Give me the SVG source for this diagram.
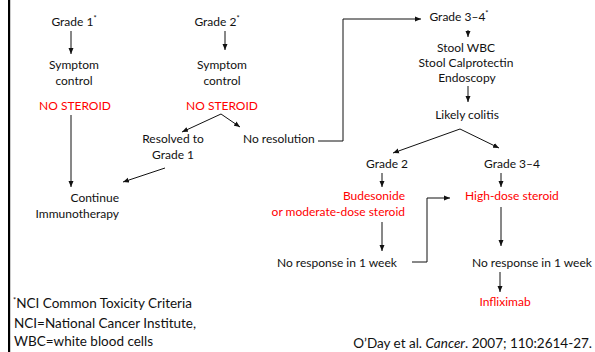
<svg xmlns="http://www.w3.org/2000/svg" width="595" height="352" viewBox="0 0 595 352">
<defs>
<style>
text{font-family:Lato,"Open Sans","Liberation Sans",sans-serif;font-size:12px;fill:#111;}
.c{text-anchor:middle;}
.r{text-anchor:end;}
.red{fill:#ff0000;}
.ft{font-size:13.5px;}
.sup{font-size:7.5px;}
.ln{fill:none;stroke:#111;stroke-width:1;}
.ah{marker-end:url(#ah);}
</style>
<marker id="ah" viewBox="0 0 6 6" refX="6" refY="3" markerWidth="6" markerHeight="6" markerUnits="userSpaceOnUse" orient="auto">
<path d="M0,0.5 L6,3 L0,5.5 Z" fill="#111"/>
</marker>
</defs>
<rect x="8" y="0" width="2.2" height="352" fill="#000"/>
<g id="connectors">
<line class="ln ah" x1="71" y1="31" x2="71" y2="54"/>
<line class="ln ah" x1="225" y1="31" x2="225" y2="50"/>
<line class="ln ah" x1="71" y1="115" x2="71" y2="187"/>
<line class="ln ah" x1="221" y1="114" x2="182" y2="132"/>
<line class="ln ah" x1="221" y1="114" x2="240" y2="127"/>
<line class="ln ah" x1="165" y1="168" x2="123" y2="182"/>
<polyline class="ln ah" points="318,141 343,141 343,19 421,19"/>
<line class="ln ah" x1="468" y1="30" x2="468" y2="37"/>
<line class="ln ah" x1="468" y1="86" x2="468" y2="102"/>
<line class="ln ah" x1="460" y1="129" x2="393" y2="153"/>
<line class="ln ah" x1="460" y1="129" x2="499" y2="148"/>
<line class="ln ah" x1="382" y1="173" x2="382" y2="187"/>
<line class="ln ah" x1="501" y1="173" x2="501" y2="187"/>
<line class="ln ah" x1="382" y1="222" x2="382" y2="251"/>
<polyline class="ln ah" points="412,262 427,262 427,198 450,198"/>
<line class="ln ah" x1="501" y1="207" x2="501" y2="246"/>
<line class="ln ah" x1="500" y1="272" x2="500" y2="292"/>
</g>
<g id="grade1"><text class="c" x="74" y="26">Grade 1<tspan class="sup" dy="-5">*</tspan></text></g>
<g id="symptom1"><text class="c" x="74" y="69">Symptom</text><text class="c" x="74" y="85">control</text></g>
<g id="nosteroid1"><text class="c red" x="75" y="110">NO STEROID</text></g>
<g id="grade2"><text class="c" x="217" y="26">Grade 2<tspan class="sup" dy="-5">*</tspan></text></g>
<g id="symptom2"><text class="c" x="222" y="69">Symptom</text><text class="c" x="222" y="85">control</text></g>
<g id="nosteroid2"><text class="c red" x="222" y="110">NO STEROID</text></g>
<g id="resolved"><text class="c" x="173" y="143">Resolved to</text><text class="c" x="173" y="159">Grade 1</text></g>
<g id="noresolution"><text x="243" y="143">No resolution</text></g>
<g id="continue"><text class="r" x="119" y="202">Continue</text><text class="r" x="119" y="218">Immunotherapy</text></g>
<g id="grade34top"><text class="c" x="459" y="21">Grade 3–4<tspan class="sup" dy="-5">*</tspan></text></g>
<g id="tests"><text class="c" x="466" y="52">Stool WBC</text><text class="c" x="466" y="67">Stool Calprotectin</text><text class="c" x="467" y="82">Endoscopy</text></g>
<g id="colitis"><text class="c" x="467" y="119">Likely colitis</text></g>
<g id="grade2b"><text class="c" x="387" y="168">Grade 2</text></g>
<g id="grade34b"><text class="c" x="512" y="168">Grade 3–4</text></g>
<g id="budesonide"><text class="r red" x="405" y="200">Budesonide</text><text class="r red" x="405" y="216">or moderate-dose steroid</text></g>
<g id="highdose"><text class="red" x="465" y="200">High-dose steroid</text></g>
<g id="noresp1"><text x="277" y="267">No response in 1 week</text></g>
<g id="noresp2"><text x="472" y="267">No response in 1 week</text></g>
<g id="infliximab"><text class="c red" x="505" y="306">Infliximab</text></g>
<g id="footnotes">
<text class="ft" x="13" y="308"><tspan class="sup" dy="-5">*</tspan><tspan dy="5">NCI Common Toxicity Criteria</tspan></text>
<text class="ft" x="14" y="328">NCI=National Cancer Institute,</text>
<text class="ft" x="14" y="346">WBC=white blood cells</text>
<text class="ft r" x="592" y="348">O’Day et al. <tspan font-style="italic">Cancer</tspan>. 2007; 110:2614-27.</text>
</g>
</svg>
